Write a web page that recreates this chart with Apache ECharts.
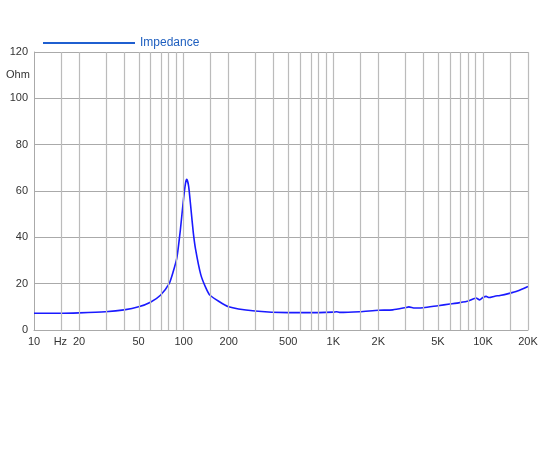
<!DOCTYPE html>
<html><head><meta charset="utf-8">
<script src="https://cdn.jsdelivr.net/npm/echarts@6/dist/echarts.min.js"></script>
<style>html,body{margin:0;padding:0;background:#fff}#c{width:550px;height:450px}</style>
</head><body><div id="c"></div>
<script>
const freqs = [10,15,20,30,40,50,60,70,80,85,90,95,100,103,105,108,112,116,120,130,140,150,200,300,500,800,1000,1050,1100,1500,2000,2500,3000,3200,3500,4000,5000,6000,7000,8000,9000,9500,10000,10500,11000,12000,13000,15000,17000,20000];
const impedance = [7.2,7.2,7.4,7.9,8.7,10,12,15,20,25,31,43,57,63.5,65,62,52,42,35,24,18.5,15,10,8.2,7.5,7.5,7.7,7.9,7.6,7.9,8.5,8.7,9.6,10,9.5,9.6,10.5,11.2,11.8,12.5,13.8,13,14,14.5,14,14.6,14.9,15.8,16.8,18.8];
const gridFreqs = [15,20,30,40,50,60,70,80,90,100,150,200,300,400,500,600,700,800,900,1000,1500,2000,3000,4000,5000,6000,7000,8000,9000,10000,15000];
const tickLabels = {10:'10',15:'Hz',20:'20',50:'50',100:'100',200:'200',500:'500',1000:'1K',2000:'2K',5000:'5K',10000:'10K',20000:'20K'};
const labelFreqs = Object.keys(tickLabels).map(Number);
const L = Math.log10;
const chart = echarts.init(document.getElementById('c'));
chart.setOption({
  animation:false,
  textStyle:{fontFamily:'Arial, Liberation Sans, sans-serif'},
  grid:{left:34,right:22,top:52,bottom:120},
  legend:{left:38,top:32,itemWidth:92,itemHeight:2,itemGap:4,icon:'rect',
    textStyle:{color:'#1f5fbf',fontSize:12},data:['Impedance']},
  graphic:[{type:'text',left:6,top:69,style:{text:'Ohm',fontSize:11,fill:'#333'}}],
  xAxis:{type:'value',min:1,max:L(20000),
    axisLine:{show:true,lineStyle:{color:'#aaa'}},axisTick:{show:false},splitLine:{show:false},
    axisLabel:{customValues:labelFreqs.map(L),color:'#333',fontSize:11,margin:6,
      formatter:v=>{const f=Math.round(Math.pow(10,v));return tickLabels[f]||'';}}},
  yAxis:{type:'value',min:0,max:120,interval:20,
    axisLine:{show:true,lineStyle:{color:'#aaa'}},axisTick:{show:false},
    splitLine:{lineStyle:{color:'#aaa'}},axisLabel:{color:'#333',fontSize:11,margin:6}},
  series:[{name:'Impedance',type:'line',showSymbol:false,smooth:0.2,
    lineStyle:{color:'#1a1aff',width:1.6},itemStyle:{color:'#1f5fd0'},
    data:freqs.map((f,i)=>[L(f),impedance[i]]),
    markLine:{silent:true,symbol:'none',label:{show:false},
      lineStyle:{color:'#bbb',type:'solid',width:1.2},
      data:gridFreqs.concat([20000]).map(f=>({xAxis:L(f)}))},
    z:3}]
});
</script></body></html>
